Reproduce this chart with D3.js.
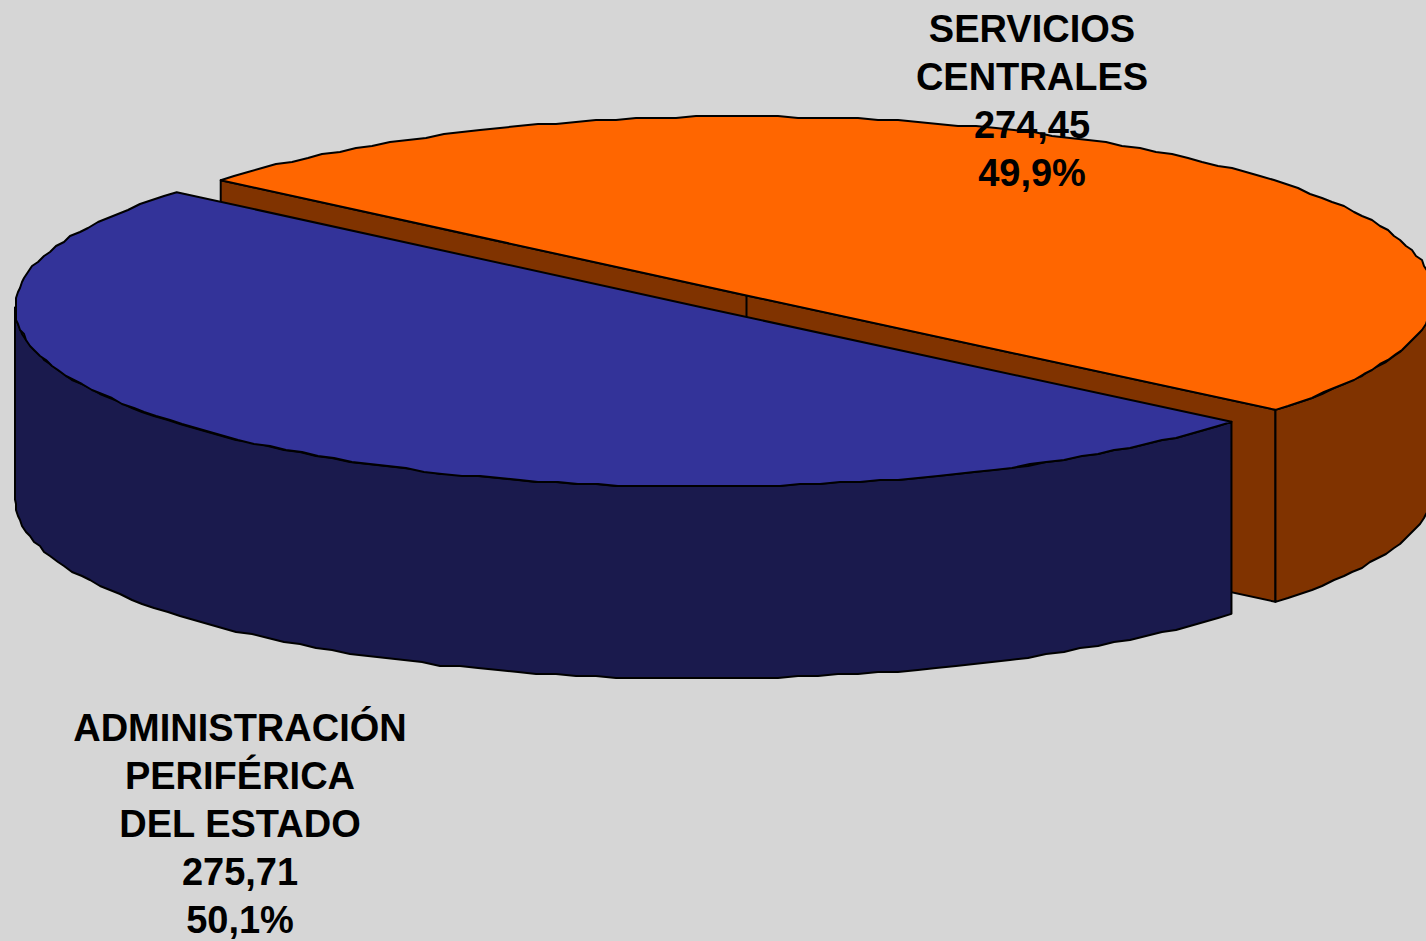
<!DOCTYPE html>
<html><head><meta charset="utf-8">
<script src="https://cdnjs.cloudflare.com/ajax/libs/d3/7.8.5/d3.min.js"></script>
<style>html,body{margin:0;padding:0;background:#d6d6d6;overflow:hidden}svg{display:block}</style>
</head><body><svg id="c" width="1426" height="941"></svg>
<script>
const categories = ["ADMINISTRACIÓN PERIFÉRICA DEL ESTADO", "SERVICIOS CENTRALES"];
const values = [275.71, 274.45];
const valueLabels = ["275,71", "274,45"];
const percentLabels = ["50,1%", "49,9%"];
const labelLines = [["ADMINISTRACIÓN","PERIFÉRICA","DEL ESTADO"],["SERVICIOS","CENTRALES"]];
const topColors = ["#333399", "#FF6600"];
const sideColors = ["#1A1A4D", "#803300"];

const W=1426,H=941,depth=192;
const rx=687.5, ry=179;
const centers=[{x:702.5,y:307.5},{x:746.5,y:295.5}];
const labelPos=[{x:240,y:741},{x:1032,y:42}];
const svg=d3.select("#c");
const deg=Math.PI/180;
const pie=d3.pie().sort(null).startAngle(129.7*deg).endAngle(489.7*deg);
const arcs=pie(values);
const stroke="#000";
const xS=c=>d3.scaleLinear().domain([-1,1]).range([c.x-rx,c.x+rx]);
const yS=(c,dz)=>d3.scaleLinear().domain([-1,1]).range([c.y-ry+dz,c.y+ry+dz]);
const step=1.7*deg, grid=2;
function angles(a,b){
  const n=Math.max(1,Math.ceil(Math.abs(b-a)/step));
  return d3.range(n+1).map(i=>a+(b-a)*i/n);
}
function rim(c,a,b,dz){
  const X=xS(c),Y=yS(c,dz),ts=angles(a,b);
  return ts.map((t,i)=>{
    const x=X(Math.sin(t)),y=Y(-Math.cos(t));
    return (i===0||i===ts.length-1)?[x,y]:[Math.round(x/grid)*grid,Math.round(y/grid)*grid];
  });
}
const line=d3.line();
const pen=s=>s.attr("stroke",stroke).attr("stroke-width",2).attr("stroke-linejoin","round");

const o=arcs[1], b=arcs[0];
const cO=centers[1], cB=centers[0];
const oA=rim(cO,o.startAngle,o.startAngle,0)[0], oE=rim(cO,o.endAngle,o.endAngle,0)[0];
// cut face of the exploded slice
pen(svg.append("path").attr("d",line([oA,[cO.x,cO.y],oE,[oE[0],oE[1]+depth],[cO.x,cO.y+depth],[oA[0],oA[1]+depth]])+"Z").attr("fill",sideColors[1]));
pen(svg.append("path").attr("d",line([[cO.x,cO.y],[cO.x,cO.y+depth]])).attr("fill","none"));
// outer wall
const wallO=rim(cO,o.endAngle,450*deg,0).concat(rim(cO,450*deg,o.endAngle,depth));
pen(svg.append("path").attr("d",line(wallO)+"Z").attr("fill",sideColors[1]));
// top
pen(svg.append("path").attr("d",line([[cO.x,cO.y]].concat(rim(cO,o.startAngle,o.endAngle,0)))+"Z").attr("fill",topColors[1]));
// blue wall
const wallB=rim(cB,b.startAngle,270*deg,0).concat(rim(cB,270*deg,b.startAngle,depth));
pen(svg.append("path").attr("d",line(wallB)+"Z").attr("fill",sideColors[0]));
// blue top
pen(svg.append("path").attr("d",line([[cB.x,cB.y]].concat(rim(cB,b.startAngle,b.endAngle,0)))+"Z").attr("fill",topColors[0]));

// labels
categories.forEach((cat,i)=>{
  const lines=labelLines[i].concat([valueLabels[i],percentLabels[i]]);
  const t=svg.append("text").attr("text-anchor","middle")
    .attr("font-family","'Liberation Sans',Arial,sans-serif").attr("font-weight","bold")
    .attr("font-size",38).attr("fill","#000");
  lines.forEach((l,j)=>t.append("tspan").attr("x",labelPos[i].x).attr("y",labelPos[i].y+j*48).text(l));
});
</script></body></html>
